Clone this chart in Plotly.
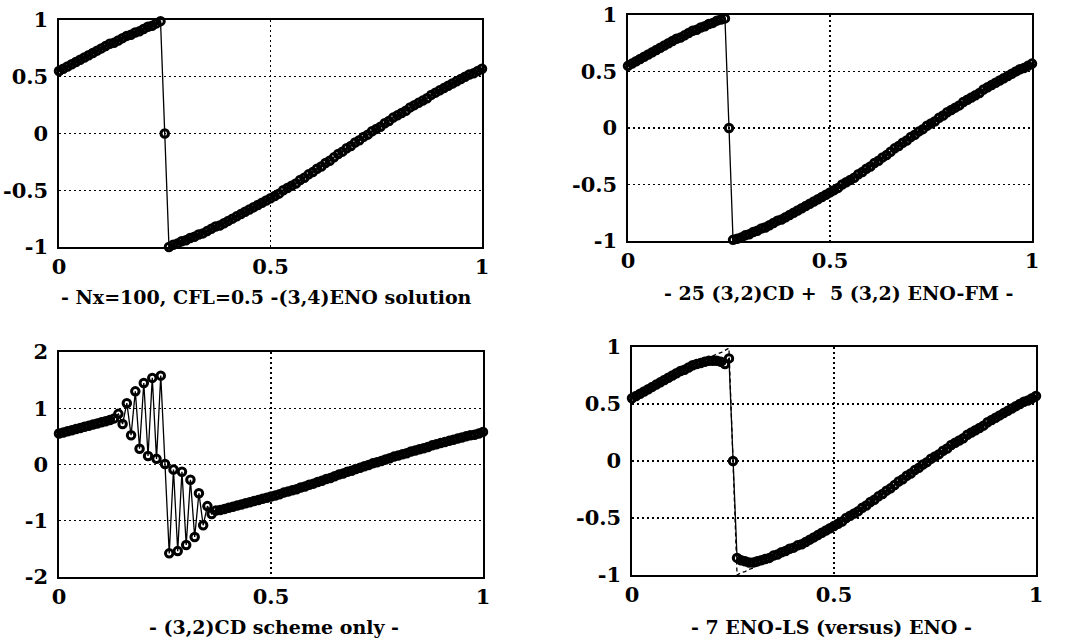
import plotly.graph_objects as go

# mesh points (Nx = 100)
x_grid = [round(i * 0.01, 2) for i in range(101)]

# (3,4) ENO solution
y_eno = [
    0.55, 0.57, 0.59, 0.61, 0.63, 0.65, 0.67, 0.69, 0.71, 0.73,
    0.75, 0.77, 0.79, 0.80, 0.82, 0.84, 0.86, 0.87, 0.89, 0.90,
    0.92, 0.94, 0.95, 0.97, 0.99, 0.00, -1.00, -0.98, -0.97, -0.95,
    -0.94, -0.92, -0.91, -0.89, -0.88, -0.86, -0.84, -0.82, -0.81, -0.79,
    -0.77, -0.75, -0.73, -0.71, -0.69, -0.67, -0.65, -0.63, -0.61, -0.59,
    -0.57, -0.55, -0.53, -0.50, -0.48, -0.46, -0.44, -0.41, -0.39, -0.36,
    -0.34, -0.31, -0.29, -0.26, -0.24, -0.21, -0.18, -0.16, -0.13, -0.11,
    -0.08, -0.06, -0.03, -0.01, 0.02, 0.04, 0.06, 0.09, 0.11, 0.14,
    0.16, 0.18, 0.20, 0.23, 0.25, 0.27, 0.29, 0.31, 0.34, 0.36,
    0.38, 0.40, 0.42, 0.44, 0.46, 0.48, 0.50, 0.52, 0.53, 0.55,
    0.57,
]

# 25 (3,2)CD + 5 (3,2) ENO-FM
y_fm = [
    0.55, 0.57, 0.59, 0.61, 0.63, 0.65, 0.67, 0.69, 0.71, 0.73,
    0.75, 0.77, 0.79, 0.80, 0.82, 0.84, 0.86, 0.87, 0.89, 0.90,
    0.92, 0.93, 0.95, 0.96, 0.97, 0.00, -0.99, -0.98, -0.97, -0.95,
    -0.94, -0.92, -0.91, -0.89, -0.88, -0.86, -0.84, -0.82, -0.81, -0.79,
    -0.77, -0.75, -0.73, -0.71, -0.69, -0.67, -0.65, -0.63, -0.61, -0.59,
    -0.57, -0.55, -0.53, -0.50, -0.48, -0.46, -0.44, -0.41, -0.39, -0.36,
    -0.34, -0.31, -0.29, -0.26, -0.24, -0.21, -0.18, -0.16, -0.13, -0.11,
    -0.08, -0.06, -0.03, -0.01, 0.02, 0.04, 0.06, 0.09, 0.11, 0.14,
    0.16, 0.18, 0.20, 0.23, 0.25, 0.27, 0.29, 0.31, 0.34, 0.36,
    0.38, 0.40, 0.42, 0.44, 0.46, 0.48, 0.50, 0.52, 0.53, 0.55,
    0.57,
]

# (3,2)CD scheme only
y_cd = [
    0.55, 0.57, 0.59, 0.61, 0.63, 0.65, 0.67, 0.69, 0.71, 0.73,
    0.75, 0.77, 0.79, 0.82, 0.90, 0.72, 1.09, 0.52, 1.30, 0.28,
    1.45, 0.15, 1.54, 0.10, 1.58, 0.01, -1.58, -0.09, -1.54, -0.13,
    -1.43, -0.27, -1.29, -0.51, -1.08, -0.74, -0.88, -0.82, -0.81, -0.79,
    -0.77, -0.75, -0.73, -0.71, -0.69, -0.67, -0.65, -0.63, -0.61, -0.59,
    -0.57, -0.55, -0.53, -0.50, -0.48, -0.46, -0.44, -0.41, -0.39, -0.36,
    -0.34, -0.31, -0.29, -0.26, -0.24, -0.21, -0.18, -0.16, -0.13, -0.11,
    -0.08, -0.06, -0.03, -0.01, 0.02, 0.04, 0.06, 0.09, 0.11, 0.14,
    0.16, 0.18, 0.20, 0.23, 0.25, 0.27, 0.29, 0.31, 0.34, 0.36,
    0.38, 0.40, 0.42, 0.44, 0.46, 0.48, 0.50, 0.52, 0.53, 0.55,
    0.58,
]

# 7 ENO-LS
y_ls = [
    0.55, 0.57, 0.59, 0.61, 0.63, 0.65, 0.67, 0.69, 0.71, 0.73,
    0.75, 0.77, 0.79, 0.80, 0.82, 0.84, 0.85, 0.86, 0.87, 0.88,
    0.88, 0.88, 0.87, 0.85, 0.90, 0.00, -0.85, -0.87, -0.88, -0.89,
    -0.89, -0.88, -0.87, -0.86, -0.85, -0.83, -0.82, -0.80, -0.79, -0.77,
    -0.76, -0.74, -0.73, -0.71, -0.69, -0.67, -0.65, -0.63, -0.61, -0.59,
    -0.57, -0.55, -0.53, -0.50, -0.48, -0.46, -0.44, -0.41, -0.39, -0.36,
    -0.34, -0.31, -0.29, -0.26, -0.24, -0.21, -0.18, -0.16, -0.13, -0.11,
    -0.08, -0.06, -0.03, -0.01, 0.02, 0.04, 0.06, 0.09, 0.11, 0.14,
    0.16, 0.18, 0.20, 0.23, 0.25, 0.27, 0.29, 0.31, 0.34, 0.36,
    0.38, 0.40, 0.42, 0.44, 0.46, 0.48, 0.50, 0.52, 0.53, 0.55,
    0.57,
]

x_ticks = [0, 0.5, 1]
x_tick_text = ["0", "0.5", "1"]
y_ticks_a = [-1, -0.5, 0, 0.5, 1]
y_tick_text_a = ["-1", "-0.5", "0", "0.5", "1"]
y_ticks_b = [-2, -1, 0, 1, 2]
y_tick_text_b = ["-2", "-1", "0", "1", "2"]

captions = [
    "- Nx=100, CFL=0.5 -(3,4)ENO solution",
    "- 25 (3,2)CD +  5 (3,2) ENO-FM -",
    "- (3,2)CD scheme only -",
    "- 7 ENO-LS (versus) ENO -",
]

W, H = 1067, 644
FONT = "DejaVu Serif"

# pixel boxes (left, right, top, bottom) of the four plot frames
boxes = [
    (59, 482, 20, 247),
    (628, 1032, 15, 241),
    (59, 483, 352, 577),
    (632, 1036, 347, 575),
]
caption_pos = [(266, 297), (838, 293), (274, 627), (831, 627)]

fig = go.Figure()

series = [y_eno, y_fm, y_cd, y_ls]
for i, ys in enumerate(series):
    ax = "" if i == 0 else str(i + 1)
    if i == 3:
        fig.add_trace(go.Scatter(
            x=x_grid, y=y_eno, mode="lines",
            line=dict(color="black", width=1.3, dash="4px,3px"),
            xaxis="x" + ax, yaxis="y" + ax, showlegend=False, cliponaxis=False,
        ))
    fig.add_trace(go.Scatter(
        x=x_grid, y=ys, mode="lines+markers",
        line=dict(color="black", width=1.3),
        marker=dict(symbol="circle-open", size=7.5, color="black",
                    line=dict(width=3, color="black")),
        xaxis="x" + ax, yaxis="y" + ax, showlegend=False, cliponaxis=False,
    ))

tick_font = dict(family=FONT, size=21, color="black", weight="bold")

axis_common = dict(
    showline=True, mirror=True, linecolor="black", linewidth=1.6,
    showgrid=True, gridcolor="black", gridwidth=1.2, griddash="2px,3px",
    zeroline=False, ticks="", color="black",
    tickfont=tick_font,
)

layout = dict(
    width=W, height=H, margin=dict(l=0, r=0, t=0, b=0, autoexpand=False),
    paper_bgcolor="white", plot_bgcolor="white",
    font=dict(family=FONT, size=18, color="black"),
    showlegend=False,
)

for i, (l, r, t, b) in enumerate(boxes):
    key = "" if i == 0 else str(i + 1)
    yt, ytt = (y_ticks_b, y_tick_text_b) if i == 2 else (y_ticks_a, y_tick_text_a)
    yr = [-2, 2] if i == 2 else [-1, 1]
    layout["xaxis" + key] = dict(
        axis_common, domain=[l / W, r / W], range=[0, 1],
        tickvals=x_ticks, ticktext=x_tick_text,
        anchor="y" + key, ticklabelstandoff=0,
    )
    layout["yaxis" + key] = dict(
        axis_common, domain=[1 - b / H, 1 - t / H], range=yr,
        tickvals=yt, ticktext=ytt,
        anchor="x" + key, ticklabelstandoff=5,
    )

annotations = []
for text, (cx, cy) in zip(captions, caption_pos):
    annotations.append(dict(
        text=text, x=cx / W, y=1 - cy / H, xref="paper", yref="paper",
        showarrow=False, xanchor="center", yanchor="middle",
        font=dict(family=FONT, size=19, color="black", weight="bold"),
    ))
layout["annotations"] = annotations

fig.update_layout(**layout)
fig.write_html(
    "out.html",
    config={"displayModeBar": False, "staticPlot": True},
    post_script="document.body.style.margin='0px';document.body.style.overflow='hidden';",
)
